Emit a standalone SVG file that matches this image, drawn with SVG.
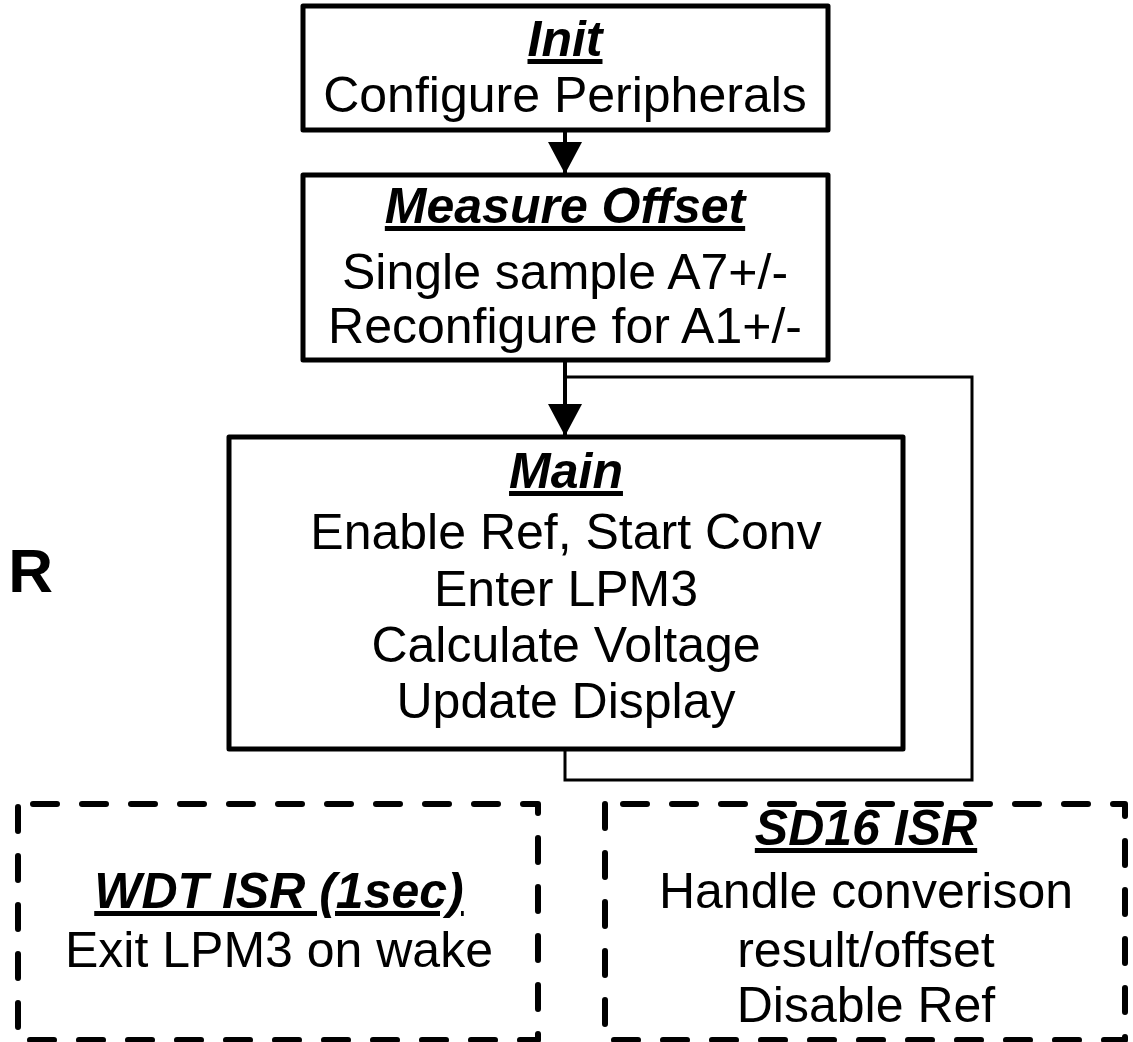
<svg xmlns="http://www.w3.org/2000/svg" width="1133" height="1042" viewBox="0 0 1133 1042">
  <defs>
    <style>
      .box{fill:#fff;stroke:#000;stroke-width:5;stroke-linejoin:round}
      .isr{fill:none;stroke:#000;stroke-width:6;stroke-dasharray:24 25;stroke-linecap:round;stroke-linejoin:round}
      .t{font-family:"Liberation Sans",Arial,sans-serif;font-size:50px;text-anchor:middle;fill:#000}
      .h{font-weight:bold;font-style:italic;text-decoration:underline}
      .wire{fill:none;stroke:#000;stroke-width:4}
      .loop{fill:none;stroke:#000;stroke-width:3}
    </style>
    <marker id="arrow" markerUnits="userSpaceOnUse" markerWidth="32" markerHeight="34" viewBox="0 0 32 34" refX="32" refY="17" orient="auto">
      <path d="M0,0 L32,17 L0,34 Z" fill="#000"/>
    </marker>
  </defs>

  <rect width="1133" height="1042" fill="#fff"/>

  <!-- partial caption at the left edge -->
  <text x="53" y="592" font-family="Liberation Sans, Arial, sans-serif" font-size="62" font-weight="bold" text-anchor="end">R</text>

  <!-- connectors -->
  <g id="connectors">
    <path class="wire" d="M565,130 V174" marker-end="url(#arrow)"/>
    <path class="wire" d="M565,360 V436" marker-end="url(#arrow)"/>
    <path class="loop" d="M565,749 V780 H972 V377 H565"/>
  </g>

  <g id="init">
    <rect class="box" x="303" y="6" width="525" height="124"/>
    <text class="t h" x="565" y="56">Init</text>
    <text class="t" x="565" y="112">Configure Peripherals</text>
  </g>

  <g id="measure-offset">
    <rect class="box" x="303" y="175" width="525" height="185"/>
    <text class="t h" x="565" y="223">Measure Offset</text>
    <text class="t" x="565" y="289">Single sample A7+/-</text>
    <text class="t" x="565" y="343">Reconfigure for A1+/-</text>
  </g>

  <g id="main">
    <rect class="box" x="229" y="437" width="674" height="312"/>
    <text class="t h" x="566" y="488">Main</text>
    <text class="t" x="566" y="549">Enable Ref, Start Conv</text>
    <text class="t" x="566" y="606">Enter LPM3</text>
    <text class="t" x="566" y="662">Calculate Voltage</text>
    <text class="t" x="566" y="718">Update Display</text>
  </g>

  <g id="wdt-isr">
    <rect class="isr" x="18" y="804" width="520" height="236" stroke-dashoffset="34"/>
    <text class="t h" x="279" y="908">WDT ISR (1sec)</text>
    <text class="t" x="279" y="967">Exit LPM3 on wake</text>
  </g>

  <g id="sd16-isr">
    <rect class="isr" x="605" y="804" width="520" height="236" stroke-dashoffset="31"/>
    <text class="t h" x="866" y="845">SD16 ISR</text>
    <text class="t" x="866" y="908">Handle converison</text>
    <text class="t" x="866" y="967">result/offset</text>
    <text class="t" x="866" y="1022">Disable Ref</text>
  </g>
</svg>
